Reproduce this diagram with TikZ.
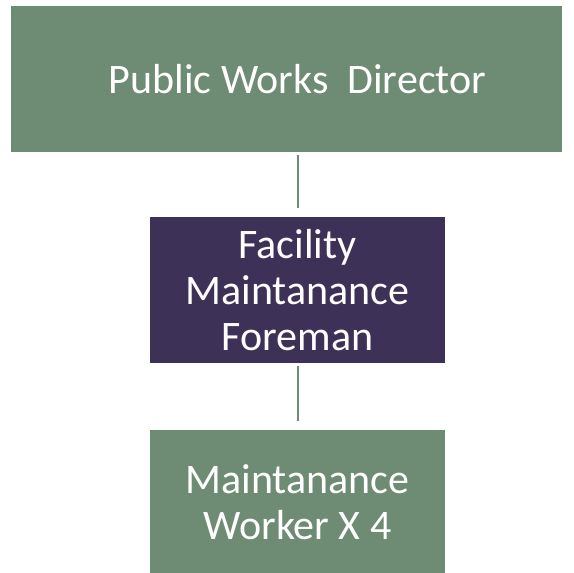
\documentclass[tikz,border=0pt]{standalone}
\usepackage{fontspec}
\setmainfont{Carlito}
\usetikzlibrary{positioning}
\definecolor{sage}{HTML}{6E8B74}
\definecolor{plum}{HTML}{3E3158}

\begin{document}
\begin{tikzpicture}[x=1pt,y=1pt,
  rolebox/.style={fill=#1,text=white,font=\fontsize{42}{46}\selectfont,align=center,inner sep=0pt},
  link/.style={sage,line width=2pt,shorten <=3pt,shorten >=9pt}]
  \useasboundingbox (0,0) rectangle (574,573);
  % Director
  \node[rolebox=sage,minimum width=551,minimum height=146] (director) at (286.5,494) {\hspace*{22pt}Public Works\ \ Director};
  % Foreman
  \node[rolebox=plum,minimum width=295,minimum height=146] (foreman) at (297.5,283) {Facility\\Maintanance\\Foreman};
  % Workers
  \node[rolebox=sage,minimum width=295,minimum height=144] (workers) at (297.5,71) {Maintanance\\Worker X 4};
  \draw[link] (director.south -| foreman.north) -- (foreman.north);
  \draw[link] (foreman.south) -- (workers.north);
\end{tikzpicture}
\end{document}
